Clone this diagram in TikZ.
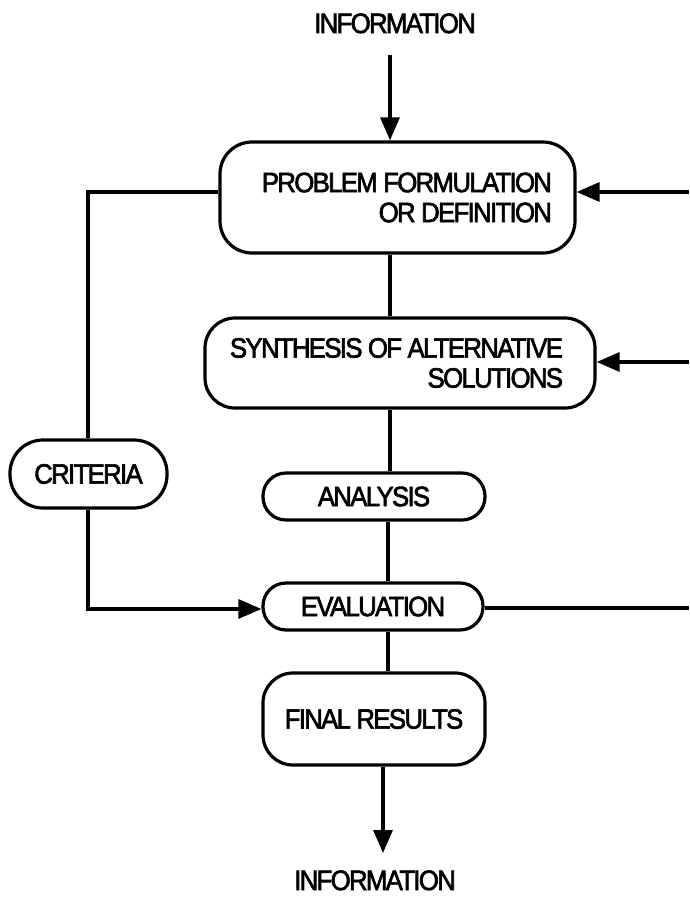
\documentclass[tikz,border=0pt]{standalone}
\usepackage{fontspec}
\setmainfont{Liberation Sans}[FakeStretch=0.92,LetterSpace=-6,FakeBold=2.2]
\usetikzlibrary{arrows.meta,calc}

% a line of text set flush right in a box of fixed width
\newcommand{\rline}[2]{\makebox[#1][r]{#2}}

\begin{document}
\begin{tikzpicture}[x=1pt,y=-1pt,
  every node/.style={font=\fontsize{28}{30}\selectfont},
  wire/.style={line width=3.2pt},
  tri/.style={wire,-{Triangle[length=23pt,width=19pt]}},
  stage/.style={draw,line width=3.2pt,inner sep=0pt,align=center},
  label/.style={inner sep=0pt,anchor=base,text depth=0pt}]
  \useasboundingbox (0,0) rectangle (689,897);

  % incoming and outgoing information
  \node[label] (infoTop) at (395,33) {INFORMATION};
  \node[label] (infoBot) at (375,890) {INFORMATION};

  % design stages
  \node[stage,minimum width=355pt,minimum height=111pt,rounded corners=32pt]
        (prob) at (397.5,197.5)
        {\rline{309pt}{PROBLEM FORMULATION}\\\rline{309pt}{OR DEFINITION}};
  \node[stage,minimum width=390pt,minimum height=90pt,rounded corners=30pt]
        (synth) at (400,363)
        {\rline{326pt}{SYNTHESIS OF ALTERNATIVE}\\\rline{326pt}{SOLUTIONS}};
  \node[stage,minimum width=222pt,minimum height=47pt,rounded corners=23pt]
        (anal) at (374,496.5) {ANALYSIS};
  \node[stage,minimum width=220pt,minimum height=47pt,rounded corners=23pt]
        (eval) at (373,606.5) {EVALUATION};
  \node[stage,minimum width=157pt,minimum height=68pt,rounded corners=33pt]
        (crit) at (88.5,474) {CRITERIA};
  \node[stage,minimum width=222pt,minimum height=92pt,rounded corners=30pt]
        (final) at (374,719) {FINAL RESULTS};

  % free ends of connectors
  \coordinate (inTop) at (390,55);
  \coordinate (outBot) at (383,853);
  \coordinate (fb1) at (689,192);
  \coordinate (fb2) at (689,362);
  \coordinate (fbOut) at (689,608);
  \coordinate (leftTop) at (88,192);
  \coordinate (leftBot) at (88,609);

  % main flow
  \draw[tri] (inTop) -- (inTop |- prob.north);
  \draw[wire] (prob.south -| inTop) -- (synth.north -| inTop);
  \draw[wire] (synth.south -| inTop) -- (anal.north -| inTop);
  \draw[wire] (anal.south -| 388,0) -- (eval.north -| 388,0);
  \draw[wire] (eval.south -| 388,0) -- (final.north -| 388,0);
  \draw[tri] (final.south -| outBot) -- (outBot);

  % feedback from evaluation
  \draw[wire] (fbOut -| eval.east) -- (fbOut);
  \draw[tri] (fb1) -- (fb1 -| prob.east);
  \draw[tri] (fb2) -- (fb2 -| synth.east);

  % criteria branch
  \draw[wire] (leftTop -| prob.west) -- (leftTop) -- (crit.north -| leftTop);
  \draw[tri] (crit.south -| leftBot) -- (leftBot) -- (leftBot -| eval.west);
\end{tikzpicture}
\end{document}
